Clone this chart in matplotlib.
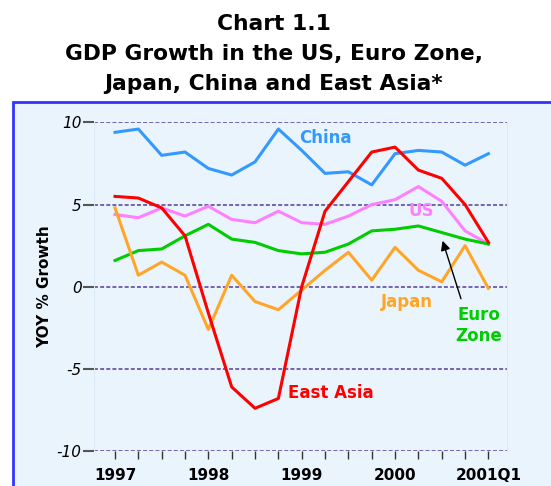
import matplotlib.pyplot as plt
from matplotlib.patches import Rectangle

# quarterly YOY % growth, 1997Q1 .. 2001Q1
quarters = list(range(17))
tick_labels = ['1997', '', '', '', '1998', '', '', '', '1999', '', '', '', '2000', '', '', '', '2001Q1']

china = [9.4, 9.6, 8.0, 8.2, 7.2, 6.8, 7.6, 9.6, 8.3, 6.9, 7.0, 6.2, 8.1, 8.3, 8.2, 7.4, 8.1]
us = [4.4, 4.2, 4.8, 4.3, 4.9, 4.1, 3.9, 4.6, 3.9, 3.8, 4.3, 5.0, 5.3, 6.1, 5.2, 3.4, 2.6]
euro = [1.6, 2.2, 2.3, 3.1, 3.8, 2.9, 2.7, 2.2, 2.0, 2.1, 2.6, 3.4, 3.5, 3.7, 3.3, 2.9, 2.6]
japan = [4.8, 0.7, 1.5, 0.7, -2.6, 0.7, -0.9, -1.4, -0.2, 1.0, 2.1, 0.4, 2.4, 1.0, 0.3, 2.5, -0.1]
east_asia = [5.5, 5.4, 4.8, 3.1, -1.6, -6.1, -7.4, -6.8, 0.0, 4.6, 6.4, 8.2, 8.5, 7.1, 6.6, 5.0, 2.7]

c_china = '#3399ff'
c_us = '#ff80ff'
c_euro = '#00cc00'
c_japan = '#ffa628'
c_ea = '#ff0000'

fig = plt.figure(figsize=(5.51, 4.86), dpi=100)
fig.patch.set_facecolor('white')

# light blue panel with blue border
panel = Rectangle((0.023, -0.05), 1.1, 0.841, transform=fig.transFigure,
                  facecolor='#eaf4fd', edgecolor='#3333ff', linewidth=2, zorder=-5)
fig.add_artist(panel)

fig.text(0.497, 0.889, 'Chart 1.1\nGDP Growth in the US, Euro Zone,\nJapan, China and East Asia*',
         ha='center', va='center', fontsize=15.7, fontweight='bold', linespacing=1.65)

ax = fig.add_axes([0.1706, 0.072, 0.7514, 0.676])
ax.set_facecolor('none')

lw = 2.2
ax.plot(quarters, china, color=c_china, lw=lw)
ax.plot(quarters, us, color=c_us, lw=lw)
ax.plot(quarters, euro, color=c_euro, lw=lw)
ax.plot(quarters, japan, color=c_japan, lw=lw)
ax.plot(quarters, east_asia, color=c_ea, lw=lw)

ax.set_xlim(-0.9, 16.84)
ax.set_ylim(-10, 10)
ax.set_yticks([-10, -5, 0, 5, 10])
ax.set_yticklabels(['-10', '-5', '0', '5', '10'], fontstyle='italic', fontsize=11)
ax.set_xticks(quarters)
ax.set_xticklabels(tick_labels, fontweight='bold', fontsize=11)
ax.tick_params(axis='y', length=8, width=1.5, color='#555555', pad=1)
ax.tick_params(axis='x', length=6, width=1, color='#333333', pad=6)

for y in [-10, -5, 0, 5, 10]:
    ax.axhline(y, color='#6a5aa8', lw=1.3, ls=(0, (2.2, 1.2)), zorder=0)

for s in ax.spines.values():
    s.set_visible(False)
ax.axvline(-0.9, color='#dce9f7', lw=1.5, zorder=0)
ax.axvline(16.84, color='#dce9f7', lw=1.5, zorder=0)

ax.set_ylabel('YOY % Growth', fontweight='bold', fontsize=11, labelpad=3)

ax.text(9.0, 9.06, 'China', color=c_china, fontsize=12, fontweight='bold', ha='center', va='center')
ax.text(13.14, 4.64, 'US', color=c_us, fontsize=12, fontweight='bold', ha='center', va='center')
ax.text(12.49, -0.91, 'Japan', color=c_japan, fontsize=12, fontweight='bold', ha='center', va='center')
ax.text(15.58, -2.37, 'Euro\nZone', color=c_euro, fontsize=12, fontweight='bold', ha='center', va='center',
        linespacing=1.2)
ax.text(9.26, -6.44, 'East Asia', color=c_ea, fontsize=12, fontweight='bold', ha='center', va='center')

ax.annotate('', xy=(14.0, 2.96), xytext=(14.86, -0.89),
            arrowprops=dict(arrowstyle='-|>', color='black', lw=1, mutation_scale=14))

fig.savefig('out.png', dpi=100)
